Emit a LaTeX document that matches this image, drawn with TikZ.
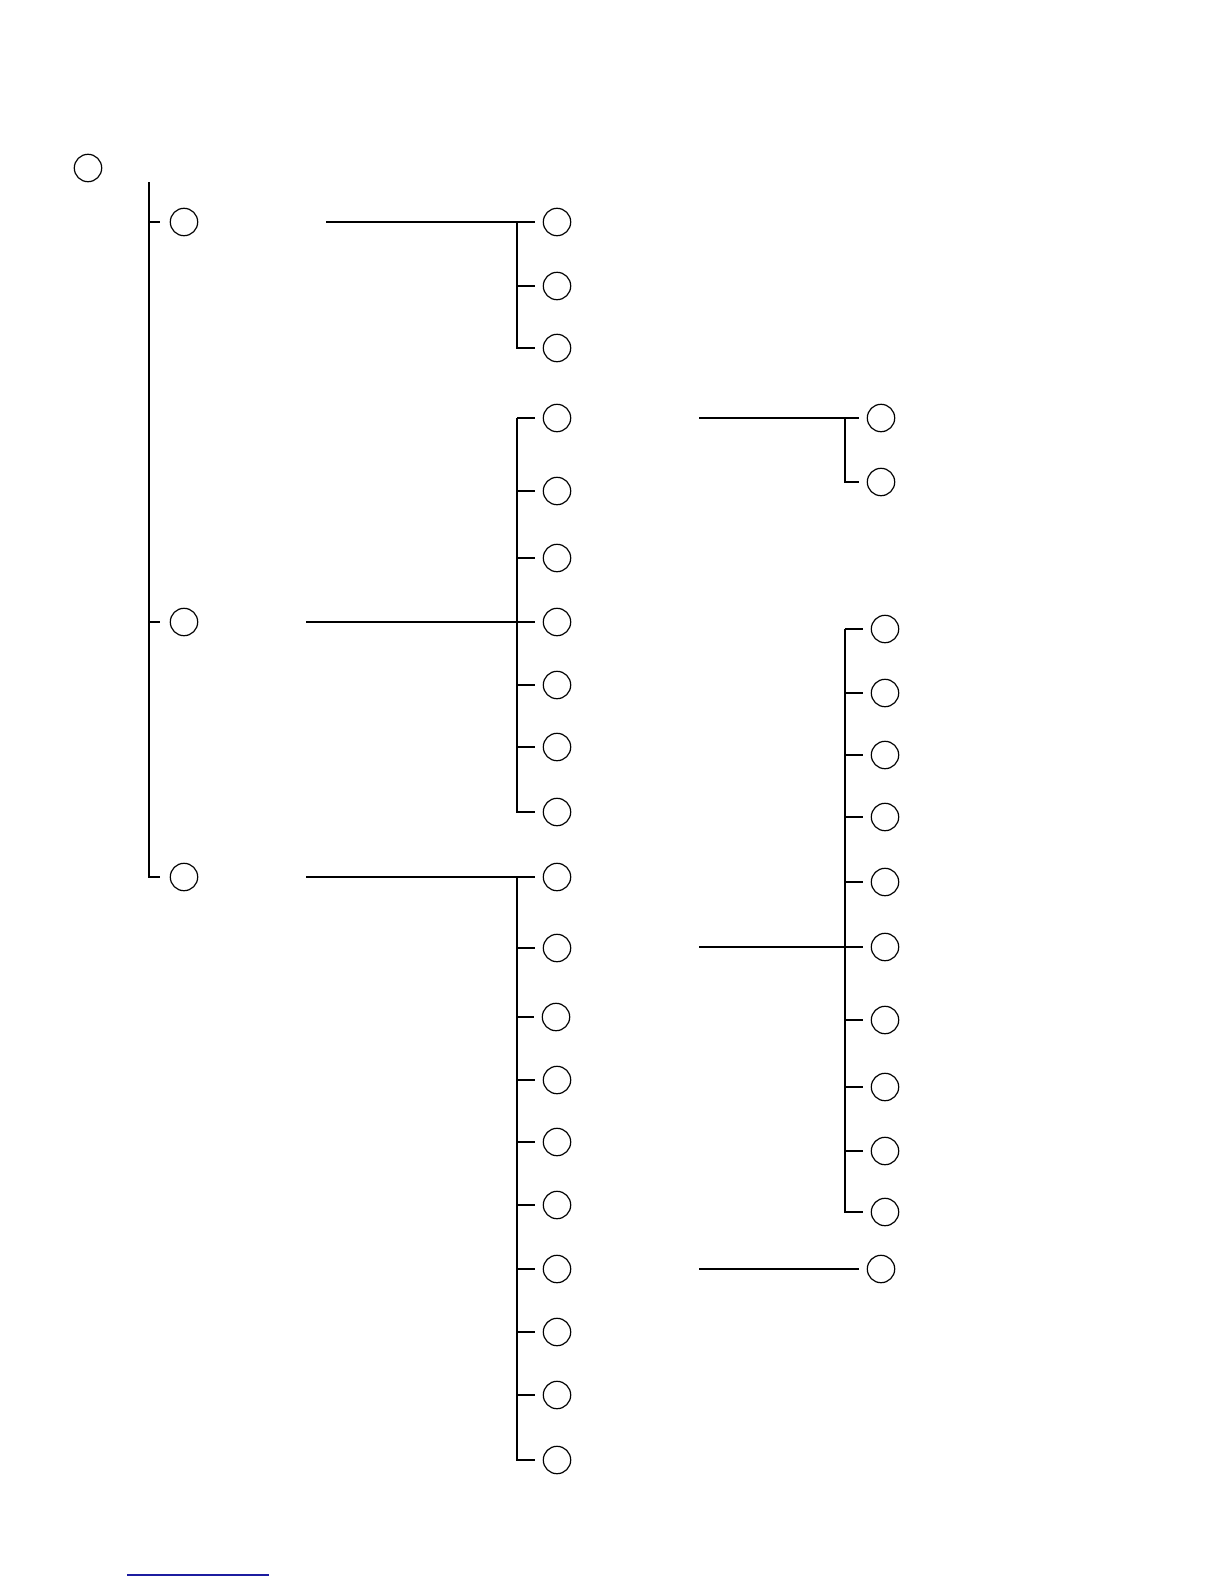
\documentclass[tikz,border=0pt]{standalone}
\usepackage{xcolor}
\usepackage{tikz}
\usetikzlibrary{positioning,calc}
\definecolor{linkblue}{RGB}{28,28,160}

\begin{document}
\begin{tikzpicture}[
  x=0.5pt, y=-0.5pt,
  line width=0.6pt,
  circ/.style={draw, circle, inner sep=0pt, minimum size=13.7pt},
  tick/.style={shorten >=4pt},
  tickw/.style={shorten >=5pt}
]
  \useasboundingbox (0,0) rectangle (1224,1584);

  % root and first level
  \node[circ] (root) at (88,168) {};
  \node[circ] (n1) at (184,222) {};
  \node[circ] (n2) at (184,622) {};
  \node[circ] (n3) at (184,877) {};
  \coordinate (top) at (149,182);
  \draw[tickw] (top) |- (n3);
  \draw[tickw] (top |- n1) -- (n1);
  \draw[tickw] (top |- n2) -- (n2);

  % second level, first group
  \node[circ] (a1) at (557,222) {};
  \node[circ] (a2) at (557,286) {};
  \node[circ] (a3) at (557,348) {};
  \coordinate (s1) at (326,222);
  \coordinate (busA) at (517,222);
  \draw[tick] (s1) -- (a1);
  \draw[tick] (busA) |- (a3);
  \draw[tick] (busA |- a2) -- (a2);

  % second level, second group
  \node[circ] (b1) at (557,418) {};
  \node[circ] (b2) at (557,491) {};
  \node[circ] (b3) at (557,558) {};
  \node[circ] (b4) at (557,622) {};
  \node[circ] (b5) at (557,685) {};
  \node[circ] (b6) at (557,747) {};
  \node[circ] (b7) at (557,812) {};
  \coordinate (s2) at (306,622);
  \coordinate (busB) at (517,418);
  \draw[tick] (s2) -- (b4);
  \draw[tick] (busB) -- (b1);
  \draw[tick] (busB) |- (b7);
  \draw[tick] (busB |- b2) -- (b2);
  \draw[tick] (busB |- b3) -- (b3);
  \draw[tick] (busB |- b5) -- (b5);
  \draw[tick] (busB |- b6) -- (b6);

  % second level, third group
  \node[circ] (c1) at (557,877) {};
  \node[circ] (c2) at (557,948) {};
  \node[circ] (c3) at (556,1017) {};
  \node[circ] (c4) at (557,1080) {};
  \node[circ] (c5) at (557,1142) {};
  \node[circ] (c6) at (557,1205) {};
  \node[circ] (c7) at (557,1269) {};
  \node[circ] (c8) at (557,1332) {};
  \node[circ] (c9) at (557,1395) {};
  \node[circ] (c10) at (557,1460) {};
  \coordinate (s3) at (306,877);
  \coordinate (busC) at (517,877);
  \draw[tick] (s3) -- (c1);
  \draw[tick] (busC) |- (c10);
  \draw[tick] (busC |- c2) -- (c2);
  \draw[tick] (busC |- c3) -- (c3);
  \draw[tick] (busC |- c4) -- (c4);
  \draw[tick] (busC |- c5) -- (c5);
  \draw[tick] (busC |- c6) -- (c6);
  \draw[tick] (busC |- c7) -- (c7);
  \draw[tick] (busC |- c8) -- (c8);
  \draw[tick] (busC |- c9) -- (c9);

  % third level
  \node[circ] (d1) at (881,418) {};
  \node[circ] (d2) at (881,482) {};
  \coordinate (s4) at (699,418);
  \coordinate (busD) at (845,418);
  \draw[tick] (s4) -- (d1);
  \draw[tick] (busD) |- (d2);

  \node[circ] (e1) at (885,629) {};
  \node[circ] (e2) at (885,693) {};
  \node[circ] (e3) at (885,755) {};
  \node[circ] (e4) at (885,817) {};
  \node[circ] (e5) at (885,882) {};
  \node[circ] (e6) at (885,947) {};
  \node[circ] (e7) at (885,1020) {};
  \node[circ] (e8) at (885,1087) {};
  \node[circ] (e9) at (885,1151) {};
  \node[circ] (e10) at (885,1212) {};
  \coordinate (s5) at (699,947);
  \coordinate (busE) at (845,629);
  \draw[tick] (s5) -- (e6);
  \draw[tick] (busE) -- (e1);
  \draw[tick] (busE) |- (e10);
  \draw[tick] (busE |- e2) -- (e2);
  \draw[tick] (busE |- e3) -- (e3);
  \draw[tick] (busE |- e4) -- (e4);
  \draw[tick] (busE |- e5) -- (e5);
  \draw[tick] (busE |- e7) -- (e7);
  \draw[tick] (busE |- e8) -- (e8);
  \draw[tick] (busE |- e9) -- (e9);

  \node[circ] (f1) at (881,1269) {};
  \coordinate (s6) at (699,1269);
  \draw[tick] (s6) -- (f1);

  \draw[linkblue, line width=0.7pt] (127,1575) -- (269,1575);
\end{tikzpicture}
\end{document}
